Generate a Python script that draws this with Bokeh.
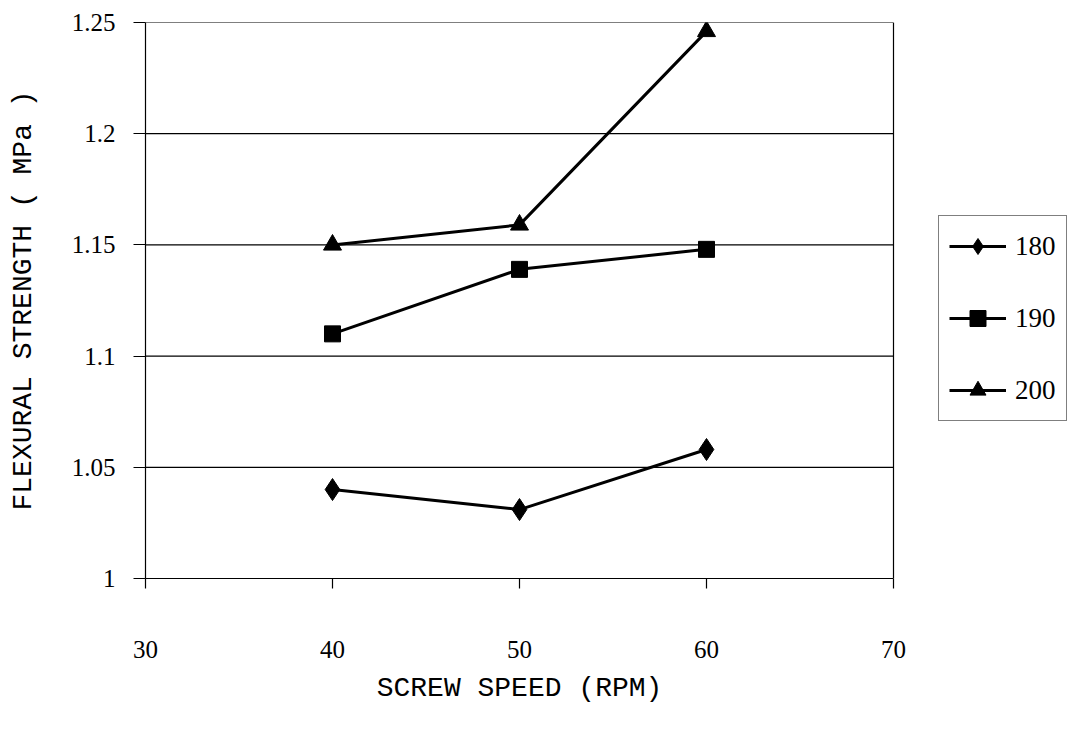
from bokeh.plotting import figure
from bokeh.models import Legend, LegendItem, FixedTicker, Range1d, Span, Title
from bokeh.embed import file_html
from bokeh.resources import INLINE

screw_speed = [40, 50, 60]
s180 = [1.040, 1.031, 1.058]
s190 = [1.110, 1.139, 1.148]
s200 = [1.150, 1.159, 1.246]
x_ticks = [30, 40, 50, 60, 70]
y_ticks = [1.0, 1.05, 1.1, 1.15, 1.2, 1.25]

FONT = "Liberation Serif"
LABEL_FONT = "Liberation Mono"

# layout: plot area spans 30..70 over pixels 145..893; frame extended to the right to host legend
FRAME_L, AXIS_R, FRAME_R = 145, 893, 1069
x_end = 30 + (FRAME_R - FRAME_L) * 40.0 / (AXIS_R - FRAME_L)

p = figure(width=1070, height=752, output_backend="svg", toolbar_location=None,
           x_range=Range1d(30, x_end), y_range=Range1d(1.0, 1.25),
           min_border_left=FRAME_L, min_border_right=1070 - FRAME_R,
           min_border_top=22, min_border_bottom=174)

p.background_fill_color = "white"
p.border_fill_color = "white"
p.outline_line_color = None

p.xgrid.visible = False
p.ygrid.visible = False

# horizontal gridlines limited to the 30..70 plot area
grid_y = y_ticks[1:]
p.segment(x0=[x_ticks[0]] * len(grid_y), y0=grid_y, x1=[x_ticks[-1]] * len(grid_y), y1=grid_y,
          line_color="black", line_width=1.2)

p.add_layout(Span(location=x_ticks[-1], dimension="height", line_color="black", line_width=1.2))

p.xaxis.ticker = FixedTicker(ticks=x_ticks)
p.yaxis.ticker = FixedTicker(ticks=y_ticks)
p.xaxis.bounds = (x_ticks[0], x_ticks[-1])
p.xaxis.major_label_overrides = {t: str(t) for t in x_ticks}
p.yaxis.major_label_overrides = {1.0: "1", 1.05: "1.05", 1.1: "1.1", 1.15: "1.15", 1.2: "1.2", 1.25: "1.25"}

for ax in (p.xaxis[0], p.yaxis[0]):
    ax.axis_line_color = "black"
    ax.axis_line_width = 1.2
    ax.major_tick_line_color = "black"
    ax.major_tick_line_width = 1.2
    ax.minor_tick_line_color = None
    ax.major_label_text_font = FONT
    ax.major_label_text_font_size = "25px"
    ax.major_label_text_color = "black"
    ax.axis_label_text_font = LABEL_FONT
    ax.axis_label_text_font_style = "normal"
    ax.axis_label_text_color = "black"
    ax.axis_label_text_font_size = "28px"

p.xaxis.major_tick_in = 0
p.xaxis.major_tick_out = 10
p.yaxis.major_tick_in = 0
p.yaxis.major_tick_out = 12
p.xaxis.major_label_standoff = 52
p.yaxis.major_label_standoff = 18

p.yaxis.axis_label = "FLEXURAL STRENGTH ( MPa )"
p.yaxis.axis_label_standoff = 30

# x-axis title centred under the 30..70 span (frame is extended for the legend)
x_title_text = "SCREW SPEED (RPM)"
title_width = len(x_title_text) * 28 * 0.6
axis_center = (FRAME_L + AXIS_R) / 2.0
xtitle = Title(text=x_title_text, align="left", offset=axis_center - title_width / 2.0 - FRAME_L,
               text_font=LABEL_FONT, text_font_size="28px", text_font_style="normal",
               text_color="black", standoff=20)
p.add_layout(xtitle, "below")

l1 = p.line(screw_speed, s180, line_color="black", line_width=3)
m1 = p.scatter(screw_speed, s180, marker="diamond", size=22, fill_color="black", line_color="black")
l2 = p.line(screw_speed, s190, line_color="black", line_width=3)
m2 = p.scatter(screw_speed, s190, marker="square", size=16, fill_color="black", line_color="black")
l3 = p.line(screw_speed, s200, line_color="black", line_width=3)
m3 = p.scatter(screw_speed, s200, marker="triangle", size=18, fill_color="black", line_color="black")

legend = Legend(items=[
    LegendItem(label="180", renderers=[l1, m1]),
    LegendItem(label="190", renderers=[l2, m2]),
    LegendItem(label="200", renderers=[l3, m3]),
], location=(938 - FRAME_L, 578 - 421))
legend.label_text_font = FONT
legend.label_text_font_size = "27px"
legend.label_text_color = "black"
legend.border_line_color = "black"
legend.border_line_width = 1.2
legend.background_fill_alpha = 1
legend.glyph_width = 57
legend.glyph_height = 40
legend.label_height = 40
legend.spacing = 32
legend.padding = 10
legend.margin = 0
legend.label_standoff = 9
p.add_layout(legend, "center")

open("out.html", "w").write(file_html(p, INLINE))
